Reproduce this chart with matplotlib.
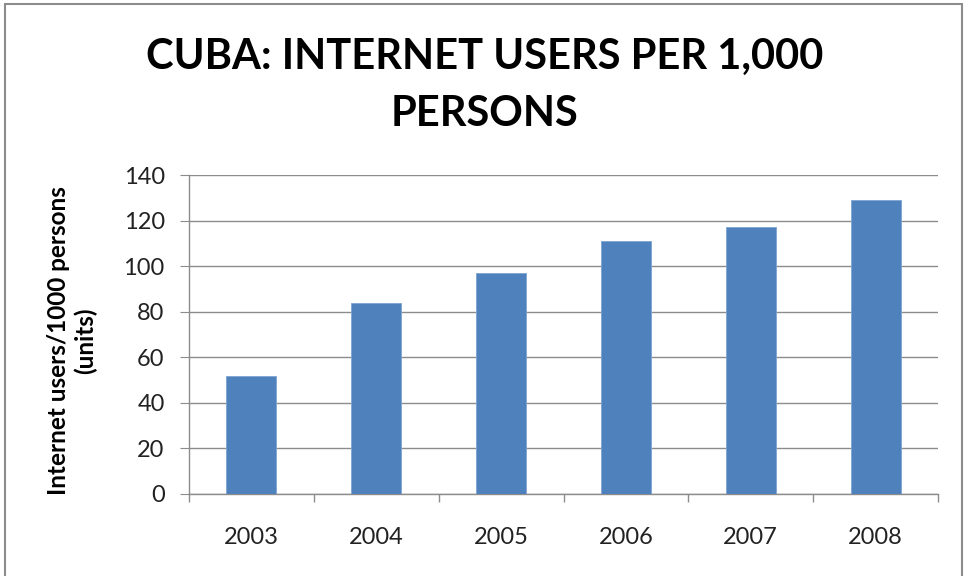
import matplotlib.pyplot as plt
import matplotlib.patches as patches
import numpy as np

years = ["2003", "2004", "2005", "2006", "2007", "2008"]
users = [52, 84, 97, 111, 117, 129]
y_ticks = [0, 20, 40, 60, 80, 100, 120, 140]

plt.rcParams['font.family'] = ['Lato', 'DejaVu Sans']

fig = plt.figure(figsize=(9.64, 5.76), dpi=100)
ax = fig.add_axes([189 / 964, 82 / 576, 749 / 964, 319 / 576])

x = np.arange(len(years))
ax.bar(x, users, width=0.4, color="#4F81BD", edgecolor="#7FA3D3", linewidth=0.6, zorder=3)

ax.set_xlim(-0.5, len(years) - 0.5)
ax.set_ylim(0, 140)
ax.set_yticks(y_ticks)
ax.set_xticks(x)
ax.set_xticklabels(years)
ax.set_xticks(np.arange(-0.5, len(years), 1), minor=True)

grid_col = "#8C8C8C"
ax.yaxis.grid(True, color=grid_col, linewidth=1.0, zorder=0)
for s in ["top", "right"]:
    ax.spines[s].set_visible(False)
for s in ["left", "bottom"]:
    ax.spines[s].set_color(grid_col)
    ax.spines[s].set_linewidth(1.0)

ax.tick_params(axis="y", length=6.5, color=grid_col, pad=11, labelsize=17, labelcolor="#222222")
ax.tick_params(axis="x", which="major", length=0, pad=24, labelsize=17, labelcolor="#222222")
ax.tick_params(axis="x", which="minor", length=5.5, color=grid_col, width=1.0)

ax.set_ylabel("Internet users/1000 persons\n(units)", fontsize=17.5, fontweight="bold",
              linespacing=1.2)
ax.yaxis.set_label_coords(-0.122, 0.48)

fig.text(0.503, 0.852, "CUBA: INTERNET USERS PER 1,000\nPERSONS", ha="center", va="center",
         fontsize=30, fontweight="bold", linespacing=1.62)

border = patches.Rectangle((5 / 964, -0.01), 957 / 964, 1 - 4 / 576 + 0.01, transform=fig.transFigure,
                           fill=False, edgecolor="#8C8C8C", linewidth=1.5)
fig.patches.append(border)

fig.savefig("out.png", dpi=100)
